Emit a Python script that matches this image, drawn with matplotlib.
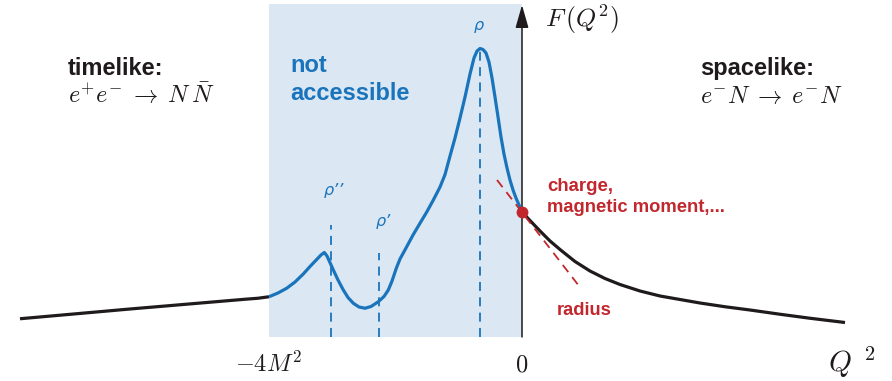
import matplotlib
matplotlib.use("Agg")
import matplotlib.pyplot as plt
from matplotlib.patches import Rectangle

plt.rcParams['mathtext.fontset'] = 'cm'
plt.rcParams['font.family'] = ['Liberation Sans', 'DejaVu Sans']

# ---- data (Q^2 in units of M^2 ; F normalised to F(0)=1) ----
timelike_q2 = [-7.937, -6.198, -4.379, -4.174, -4.000]
timelike_F = [0.146, 0.224, 0.302, 0.310, 0.322]

unphys_q2 = [-4.000, -3.858, -3.720, -3.589, -3.458, -3.352, -3.246, -3.178, -3.126,
             -3.083, -2.983, -2.909, -2.825, -2.751, -2.667, -2.577, -2.482, -2.387,
             -2.272, -2.182, -2.114, -2.055, -1.986, -1.929, -1.823, -1.723, -1.613,
             -1.506, -1.402, -1.296, -1.217, -1.138, -1.059, -0.980, -0.901, -0.822,
             -0.759, -0.711, -0.664, -0.617, -0.569, -0.522, -0.474, -0.427, -0.379,
             -0.332, -0.285, -0.237, -0.190, -0.142, -0.095, -0.047, 0.000]
unphys_F = [0.322, 0.352, 0.390, 0.440, 0.504, 0.564, 0.620, 0.656, 0.676,
            0.648, 0.536, 0.456, 0.376, 0.316, 0.270, 0.240, 0.230, 0.244,
            0.282, 0.324, 0.376, 0.448, 0.552, 0.624, 0.722, 0.816, 0.910,
            1.000, 1.096, 1.200, 1.300, 1.448, 1.592, 1.752, 1.920, 2.104,
            2.232, 2.288, 2.308, 2.300, 2.272, 2.200, 2.072, 1.920, 1.760,
            1.600, 1.464, 1.352, 1.256, 1.176, 1.112, 1.056, 1.000]

spacelike_q2 = [0.000, 0.126, 0.285, 0.443, 0.601, 0.838, 1.075, 1.312, 1.549, 1.866,
                2.182, 2.498, 2.814, 3.209, 3.605, 4.079, 4.553, 5.107]
spacelike_F = [1.000, 0.932, 0.848, 0.768, 0.700, 0.604, 0.528, 0.468, 0.420, 0.368,
               0.328, 0.300, 0.272, 0.242, 0.216, 0.182, 0.150, 0.116]

tangent_q2 = [-0.395, 0.917]
tangent_F = [1.256, 0.398]

res_names = ["ρ’’", "ρ’", "ρ"]
res_q2 = [-3.025, -2.266, -0.664]
res_top = [0.896, 0.672, 2.296]

threshold = -4.0
F0 = 1.0

# ---- style ----
BLUE = '#1a74bb'
SHADE = '#dbe8f4'
RED = '#c1272d'
BLACK = '#1f1a1b'

fig = plt.figure(figsize=(8.92, 3.81), dpi=100)
ax = fig.add_axes([0, 0, 1, 1])
ax.set_xlim(-522 / 63.25, 370 / 63.25)
ax.set_ylim(-44 / 125, 337 / 125)
ax.axis('off')

# shaded region
ax.add_patch(Rectangle((threshold, 0), 0 - threshold, 2.664, facecolor=SHADE,
                       edgecolor='none', zorder=0))

# axes with arrows
ax.annotate('', xy=(5.866, 0), xytext=(-8.11, 0),
            arrowprops=dict(arrowstyle='-|>,head_length=0.7,head_width=0.19',
                            mutation_scale=20, lw=1.1, color=BLACK,
                            shrinkA=0, shrinkB=0), zorder=2)
ax.annotate('', xy=(0, 2.656), xytext=(0, 0),
            arrowprops=dict(arrowstyle='-|>,head_length=0.7,head_width=0.2',
                            mutation_scale=20, lw=1.1, color=BLACK,
                            shrinkA=0, shrinkB=0), zorder=2)

# resonance markers
for q, top in zip(res_q2, res_top):
    ax.plot([q, q], [0, top], color=BLUE, lw=1.3, ls=(0, (5, 3.5)), zorder=3)

# curves
ax.plot(timelike_q2, timelike_F, color=BLACK, lw=2.3, solid_capstyle='butt',
        solid_joinstyle='round', zorder=4)
ax.plot(unphys_q2, unphys_F, color=BLUE, lw=2.3, solid_capstyle='butt',
        solid_joinstyle='round', zorder=4)
ax.plot(spacelike_q2, spacelike_F, color=BLACK, lw=2.3, solid_capstyle='butt',
        solid_joinstyle='round', zorder=4)
ax.plot(tangent_q2, tangent_F, color=RED, lw=1.3, ls=(0, (5, 3.5)), zorder=5)
ax.plot([0], [F0], 'o', color=RED, ms=7.5, zorder=6)

# resonance labels
res_label_pos = [(-2.97, 1.136), (-2.198, 0.888), (-0.68, 2.456)]
for name, (lx, ly) in zip(res_names, res_label_pos):
    ax.text(lx, ly, name, color=BLUE, fontsize=11.5, style='italic',
            ha='center', va='baseline', family=['DejaVu Sans'])

# region texts
ax.text(-7.178, 2.096, 'timelike:', fontsize=17, fontweight='bold', color=BLACK,
        va='baseline', ha='left')
ax.text(-7.178, 1.872, r'$e^{+}e^{-}\;\to\;N\,\bar{N}$', fontsize=17.5, color=BLACK,
        va='baseline', ha='left')
ax.text(-3.668, 2.12, 'not', fontsize=17, fontweight='bold', color=BLUE,
        va='baseline', ha='left')
ax.text(-3.668, 1.896, 'accessible', fontsize=17, fontweight='bold', color=BLUE,
        va='baseline', ha='left')
ax.text(2.814, 2.096, 'spacelike:', fontsize=17, fontweight='bold', color=BLACK,
        va='baseline', ha='left')
ax.text(2.814, 1.872, r'$e^{-}N\;\to\;e^{-}N$', fontsize=17.5, color=BLACK,
        va='baseline', ha='left')

# red annotations
ax.text(0.395, 1.17, 'charge,', fontsize=13.4, fontweight='bold', color=RED,
        va='baseline', ha='left')
ax.text(0.395, 1.0, 'magnetic moment,...', fontsize=13.2, fontweight='bold',
        color=RED, va='baseline', ha='left')
ax.text(0.553, 0.176, 'radius', fontsize=13.2, fontweight='bold', color=RED,
        va='baseline', ha='left')

# axis labels
ax.text(0.364, 2.48, r'$F\,(Q^{2})$', fontsize=18.5, color=BLACK, va='baseline', ha='left')
ax.text(-4.0, -0.28, r'$-4M^2$', fontsize=17.5, color=BLACK, va='baseline', ha='center')
ax.text(0.0, -0.28, r'$0$', fontsize=17.5, color=BLACK, va='baseline', ha='center')
ax.text(4.84, -0.28, r'$Q^{\;\;2}$', fontsize=21, color=BLACK, va='baseline', ha='left')

fig.savefig('out.png', dpi=100)
